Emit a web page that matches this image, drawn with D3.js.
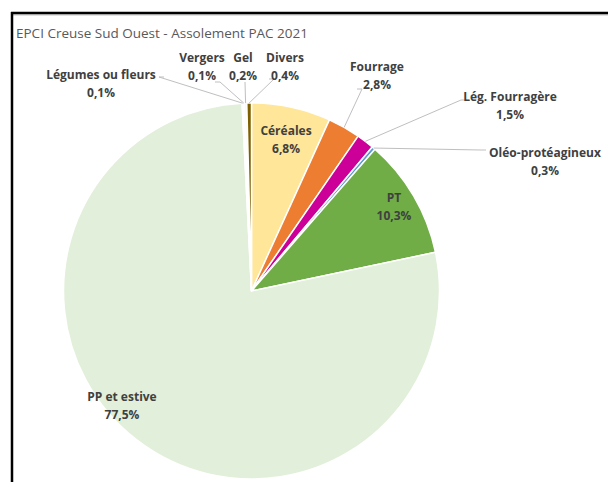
<!DOCTYPE html>
<html>
<head>
<meta charset="utf-8">
<script src="https://cdn.jsdelivr.net/npm/d3@7"></script>
<style>
  html, body { margin: 0; padding: 0; background: #fff; }
  svg { display: block; }
</style>
</head>
<body>
<svg id="chart" width="608" height="482"></svg>
<script>
// ---- data ----
const title = "EPCI Creuse Sud Ouest - Assolement PAC 2021";
const categories = ["Céréales", "Fourrage", "Lég. Fourragère", "Oléo-protéagineux", "PT", "PP et estive", "Légumes ou fleurs", "Vergers", "Gel", "Divers"];
const values = [6.8, 2.8, 1.5, 0.3, 10.3, 77.5, 0.1, 0.1, 0.2, 0.4];
const colors = ["#FFE699", "#ED7D31", "#CC0099", "#5B9BD5", "#70AD47", "#E2EFDA", "#F4F4F4", "#F4F4F4", "#F8F8F8", "#7F6000"];

// ---- layout (label anchors, leader elbows) ----
const labelLayout = {
  "Céréales":          { x: 286, y: 131, leader: null },
  "PT":                { x: 394, y: 198, leader: null },
  "PP et estive":      { x: 122, y: 397, leader: null },
  "Fourrage":          { x: 377, y: 67,  leader: [[362, 89], [357, 89]] },
  "Lég. Fourragère":   { x: 510, y: 97,  leader: [[461, 100], [466, 100]] },
  "Oléo-protéagineux": { x: 545, y: 153, leader: [[481, 150], [486, 150]] },
  "Légumes ou fleurs": { x: 101, y: 75,  leader: [[159, 77], [164, 77]] },
  "Vergers":           { x: 202, y: 58,  leader: [[220, 82], [215, 82]] },
  "Gel":               { x: 243, y: 58,  leader: [[245, 82], [245, 82]] },
  "Divers":            { x: 285, y: 58,  leader: [[274, 79], [269, 79]] }
};

const W = 608, H = 482;
const cx = 251.5, cy = 291, R = 188;
const svg = d3.select("#chart");

// frame
svg.append("line").attr("x1", 11).attr("y1", 13).attr("x2", W).attr("y2", 13)
  .attr("stroke", "#000").attr("stroke-width", 2.5);
svg.append("line").attr("x1", 13).attr("y1", 14.8).attr("x2", W).attr("y2", 14.8)
  .attr("stroke", "#999").attr("stroke-width", 1);
svg.append("line").attr("x1", 12).attr("y1", 12).attr("x2", 12).attr("y2", H)
  .attr("stroke", "#000").attr("stroke-width", 2.5);

// title
svg.append("text").attr("x", 16).attr("y", 38)
  .attr("font-family", "'Open Sans', sans-serif").attr("font-size", 13.5)
  .attr("fill", "#595959").text(title);

const data = categories.map((c, i) => ({ cat: c, value: values[i], color: colors[i] }));
const pie = d3.pie().sort(null).value(d => d.value).startAngle(0).endAngle(2 * Math.PI);
const arcs = pie(data);
const arc = d3.arc().innerRadius(0).outerRadius(R);

const g = svg.append("g").attr("transform", `translate(${cx},${cy})`);
g.selectAll("path.slice").data(arcs).enter().append("path")
  .attr("class", "slice")
  .attr("d", arc)
  .attr("fill", d => d.data.color)
  .attr("stroke", "#fff").attr("stroke-width", 1.5).attr("stroke-linejoin", "round");

// leader lines
const fmt = v => (d3.format(".1f")(v)).replace(".", ",") + "%";
arcs.forEach(a => {
  const L = labelLayout[a.data.cat];
  if (!L.leader) return;
  const mid = (a.startAngle + a.endAngle) / 2;
  const px = cx + R * Math.sin(mid), py = cy - R * Math.cos(mid);
  const pts = [L.leader[1], L.leader[0], [px, py]];
  svg.append("path")
    .attr("d", d3.line()(pts))
    .attr("fill", "none").attr("stroke", "#BFBFBF").attr("stroke-width", 1);
});

// labels
arcs.forEach(a => {
  const L = labelLayout[a.data.cat];
  const t = svg.append("text")
    .attr("x", L.x).attr("y", L.y)
    .attr("text-anchor", "middle")
    .attr("font-family", "'Open Sans', sans-serif").attr("font-size", 12)
    .attr("font-weight", "bold").attr("fill", "#404040");
  t.append("tspan").attr("x", L.x).attr("dy", "0.35em").text(a.data.cat);
  t.append("tspan").attr("x", L.x).attr("dy", 18).text(fmt(a.data.value));
});
</script>
</body>
</html>
